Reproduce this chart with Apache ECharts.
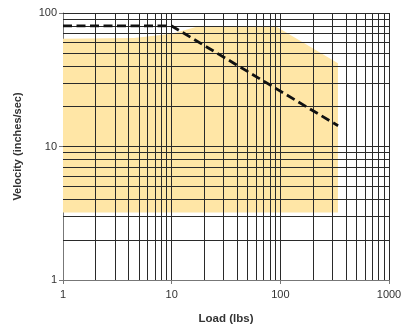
<!DOCTYPE html>
<html><head><meta charset="utf-8">
<script src="https://cdn.jsdelivr.net/npm/echarts@6/dist/echarts.min.js"></script>
<style>html,body{margin:0;padding:0;background:#fff}#c{width:403px;height:325px}</style>
</head><body><div id="c"></div>
<script>
// Shaded operating region (polygon vertices: load, velocity)
var regionLoad = [1, 4.5, 10, 17, 20, 90, 339, 339, 1];
var regionVel  = [64, 65, 70, 79, 80, 80, 42, 3.2, 3.2];
// Dashed limit line
var limitLoad = [1, 10, 340];
var limitVel  = [80, 80, 14.3];
// Grid line positions
var xGrid = [2,3,4,5,6,7,8,9,10,20,30,40,50,60,70,80,90,100,200,300,400,500,600,700,800,900,1000];
var yGrid = [2,3,4,5,6,7,8,9,10,20,30,40,50,60,70,80,90,100];
var xTicks = [1, 10, 100, 1000];
var yTicks = [1, 10, 100];

var chart = echarts.init(document.getElementById('c'), null, {renderer:'canvas'});
var font = 'Liberation Sans, Arial, sans-serif';
var regionData = regionLoad.map(function(x,i){return [x, regionVel[i]];});
var limitData = limitLoad.map(function(x,i){return [x, limitVel[i]];});
var gridLines = xGrid.map(function(v){return {xAxis:v};}).concat(yGrid.map(function(v){return {yAxis:v};}));

chart.setOption({
  animation:false,
  grid:{left:63, right:14, top:13, bottom:45, containLabel:false, outerBoundsMode:'none'},
  xAxis:{type:'log', logBase:10, min:1, max:1000,
    name:'Load (lbs)', nameLocation:'middle', nameGap:33,
    nameTextStyle:{fontFamily:font, fontSize:11.5, fontWeight:'bold', color:'#333'},
    axisLine:{show:true, lineStyle:{color:'#777', width:1}},
    axisTick:{show:true, length:4, inside:false, lineStyle:{color:'#777'}},
    axisLabel:{fontFamily:font, fontSize:11, color:'#333', margin:9,
      formatter:function(v){return xTicks.indexOf(Math.round(v))>=0?String(Math.round(v)):'';}},
    splitLine:{show:false}, minorTick:{show:false}},
  yAxis:{type:'log', logBase:10, min:1, max:100,
    name:'Velocity (inches/sec)', nameLocation:'middle', nameGap:40, nameRotate:90,
    nameTextStyle:{fontFamily:font, fontSize:11, fontWeight:'bold', color:'#333'},
    axisLine:{show:true, lineStyle:{color:'#777', width:1}},
    axisTick:{show:true, length:4, inside:false, lineStyle:{color:'#777'}},
    axisLabel:{fontFamily:font, fontSize:11, color:'#333', margin:6,
      formatter:function(v){return yTicks.indexOf(Math.round(v))>=0?String(Math.round(v)):'';}},
    splitLine:{show:false}, minorTick:{show:false}},
  series:[
    {type:'custom', z:1, silent:true, data:regionData,
     renderItem:function(params, api){
       if (params.dataIndex !== 0) return null;
       var pts = regionData.map(function(d){return api.coord(d);});
       return {type:'polygon', shape:{points:pts}, style:{fill:'#FFE6A6'}};
     }},
    {type:'line', z:2, data:[], silent:true,
     markLine:{z:2, silent:true, symbol:['none','none'], animation:false,
       label:{show:false}, lineStyle:{color:'#2a2a2a', width:1, type:'solid'},
       emphasis:{disabled:true},
       data:gridLines}},
    {type:'line', z:10, data:limitData, symbol:'none', silent:true,
     lineStyle:{color:'#111', width:2.8, type:[9,4.5]}}
  ]
});
</script></body></html>
